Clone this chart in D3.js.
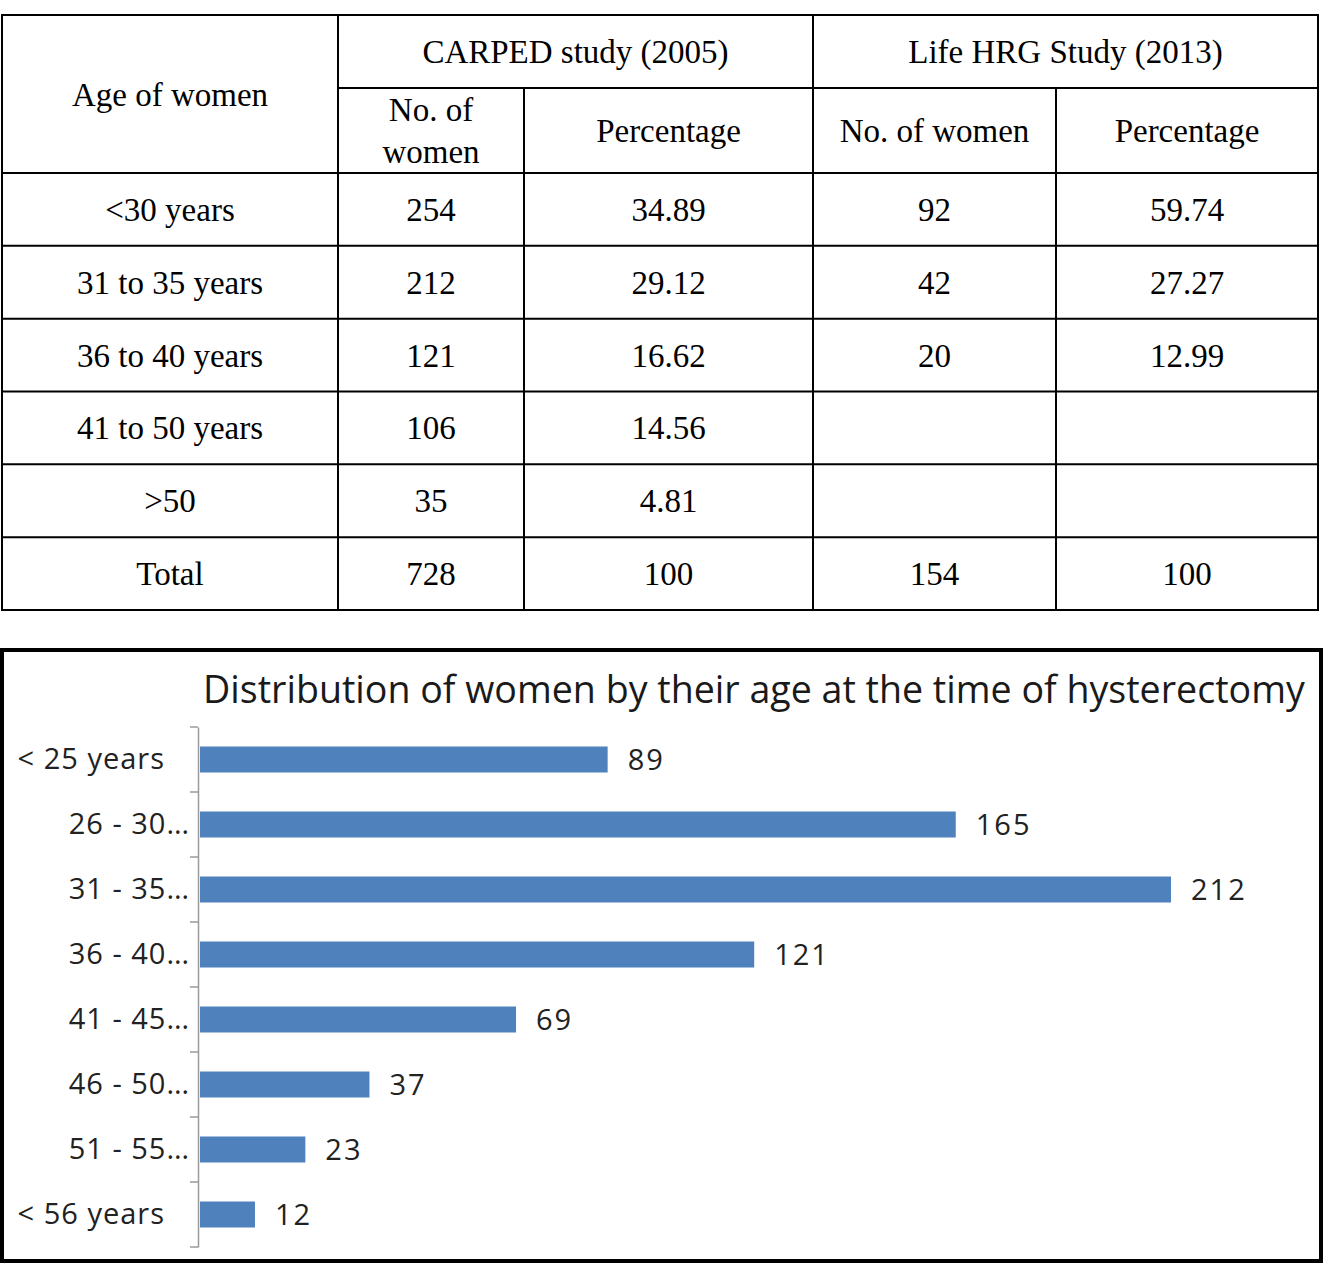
<!DOCTYPE html>
<html>
<head>
<meta charset="utf-8">
<script src="https://cdn.jsdelivr.net/npm/d3@7"></script>
<style>
  body { margin: 0; background: #fff; }
  svg { display: block; }
</style>
</head>
<body>
<div class="vis"></div>
<script>
// table data
const tableAges = ["<30 years", "31 to 35 years", "36 to 40 years", "41 to 50 years", ">50", "Total"];
const carpedCount = ["254", "212", "121", "106", "35", "728"];
const carpedPct = ["34.89", "29.12", "16.62", "14.56", "4.81", "100"];
const hrgCount = ["92", "42", "20", "", "", "154"];
const hrgPct = ["59.74", "27.27", "12.99", "", "", "100"];

// bar chart data
const chartTitle = "Distribution of women by their age at the time of hysterectomy";
const ageGroups = ["< 25 years", "26 - 30…", "31 - 35…", "36 - 40…", "41 - 45…", "46 - 50…", "51 - 55…", "< 56 years"];
const women = [89, 165, 212, 121, 69, 37, 23, 12];

const w = 1328;
const h = 1275;

const svg = d3.select(".vis")
  .append("svg")
  .attr("width", w)
  .attr("height", h);

//---------- table ----------
const serif = "'Liberation Serif', 'Times New Roman', serif";
const colX = [2, 338, 524, 813, 1056, 1318];
const tTop = 15, tMid = 88, tHead = 173, tBottom = 610;

const rowScale = d3.scaleBand()
  .domain(d3.range(tableAges.length))
  .range([tHead, tBottom]);

const table = svg.append("g").attr("class", "table")
  .style("font-family", serif)
  .style("font-size", "33px")
  .attr("fill", "#000");

// grid lines
const lines = [];
lines.push([colX[0], tTop, colX[5], tTop]);
lines.push([colX[1], tMid, colX[5], tMid]);
rowScale.domain().forEach(i => lines.push([colX[0], rowScale(i), colX[5], rowScale(i)]));
lines.push([colX[0], tBottom, colX[5], tBottom]);
[0, 1, 3, 5].forEach(c => lines.push([colX[c], tTop, colX[c], tBottom]));
[2, 4].forEach(c => lines.push([colX[c], tMid, colX[c], tBottom]));

table.selectAll("line")
  .data(lines)
  .enter()
  .append("line")
  .attr("x1", d => d[0]).attr("y1", d => d[1])
  .attr("x2", d => d[2]).attr("y2", d => d[3])
  .attr("stroke", "#000")
  .attr("stroke-width", 2)
  .attr("stroke-linecap", "square");

const mid = (a, b) => (a + b) / 2;

// header texts
const headers = [
  { t: "Age of women", x: mid(colX[0], colX[1]), y: mid(tTop, tHead) },
  { t: "CARPED study (2005)", x: mid(colX[1], colX[3]), y: mid(tTop, tMid) },
  { t: "Life HRG Study (2013)", x: mid(colX[3], colX[5]), y: mid(tTop, tMid) },
  { t: "No. of", x: mid(colX[1], colX[2]), y: mid(tMid, tHead) - 21 },
  { t: "women", x: mid(colX[1], colX[2]), y: mid(tMid, tHead) + 21 },
  { t: "Percentage", x: mid(colX[2], colX[3]), y: mid(tMid, tHead) },
  { t: "No. of women", x: mid(colX[3], colX[4]), y: mid(tMid, tHead) },
  { t: "Percentage", x: mid(colX[4], colX[5]), y: mid(tMid, tHead) }
];

table.selectAll("text.head")
  .data(headers)
  .enter()
  .append("text")
  .attr("class", "head")
  .attr("x", d => d.x)
  .attr("y", d => d.y)
  .attr("dy", "0.35em")
  .attr("text-anchor", "middle")
  .text(d => d.t);

// body cells
const columns = [tableAges, carpedCount, carpedPct, hrgCount, hrgPct];
const cells = [];
columns.forEach((col, c) => col.forEach((v, r) => cells.push({ v, c, r })));

table.selectAll("text.cell")
  .data(cells.filter(d => d.v !== ""))
  .enter()
  .append("text")
  .attr("class", "cell")
  .attr("x", d => mid(colX[d.c], colX[d.c + 1]))
  .attr("y", d => rowScale(d.r) + rowScale.bandwidth() / 2)
  .attr("dy", "0.35em")
  .attr("text-anchor", "middle")
  .text(d => d.v);

//---------- bar chart ----------
const sans = "'Open Sans', 'DejaVu Sans', sans-serif";

svg.append("rect")
  .attr("x", 2)
  .attr("y", 650)
  .attr("width", 1319)
  .attr("height", 611)
  .attr("fill", "none")
  .attr("stroke", "#000")
  .attr("stroke-width", 4);

const chart = svg.append("g").style("font-family", sans);

const title = chart.append("text")
  .attr("x", 203)
  .attr("y", 703)
  .attr("fill", "#1a1a1a")
  .style("font-size", "32px")
  .text(chartTitle);
// fit title to the reference width
const tl = title.node().getComputedTextLength();
title.style("font-size", (32 * 1102 / tl) + "px");

const xScale = d3.scaleLinear()
  .domain([0, d3.max(women)])
  .range([200, 1171]);

const yScale = d3.scaleBand()
  .domain(ageGroups)
  .range([727, 1247])
  .paddingInner(0.6)
  .paddingOuter(0.3);

chart.selectAll("rect.bar")
  .data(women)
  .enter()
  .append("rect")
  .attr("class", "bar")
  .attr("x", xScale(0))
  .attr("y", (d, i) => yScale(ageGroups[i]))
  .attr("width", d => xScale(d) - xScale(0))
  .attr("height", yScale.bandwidth())
  .attr("fill", "#4F81BD");

chart.selectAll("text.val")
  .data(women)
  .enter()
  .append("text")
  .attr("class", "val")
  .attr("x", d => xScale(d) + 20)
  .attr("y", (d, i) => yScale(ageGroups[i]) + yScale.bandwidth() / 2)
  .attr("dy", "0.36em")
  .attr("fill", "#222")
  .style("font-size", "29px")
  .style("letter-spacing", "2px")
  .text(d => d);

// axis
const yAxis = d3.axisLeft(yScale).tickSize(0).tickPadding(8);
const axisG = chart.append("g")
  .attr("transform", `translate(${xScale(0) - 2},0)`)
  .call(yAxis);

axisG.select(".domain").attr("stroke", "#9a9a9a").attr("stroke-width", 1.5);
axisG.selectAll(".tick text")
  .attr("fill", "#222")
  .style("font-family", sans)
  .style("font-size", "29px")
  .style("letter-spacing", "1px")
  .attr("x", d => d.endsWith("…") ? -8 : -33);

// tick marks at category boundaries
const bounds = d3.range(ageGroups.length + 1).map(i => yScale.range()[0] + i * yScale.step());
axisG.selectAll("line.bound")
  .data(bounds)
  .enter()
  .append("line")
  .attr("class", "bound")
  .attr("x1", -8).attr("x2", 0)
  .attr("y1", d => d).attr("y2", d => d)
  .attr("stroke", "#9a9a9a")
  .attr("stroke-width", 1.5);
</script>
</body>
</html>
